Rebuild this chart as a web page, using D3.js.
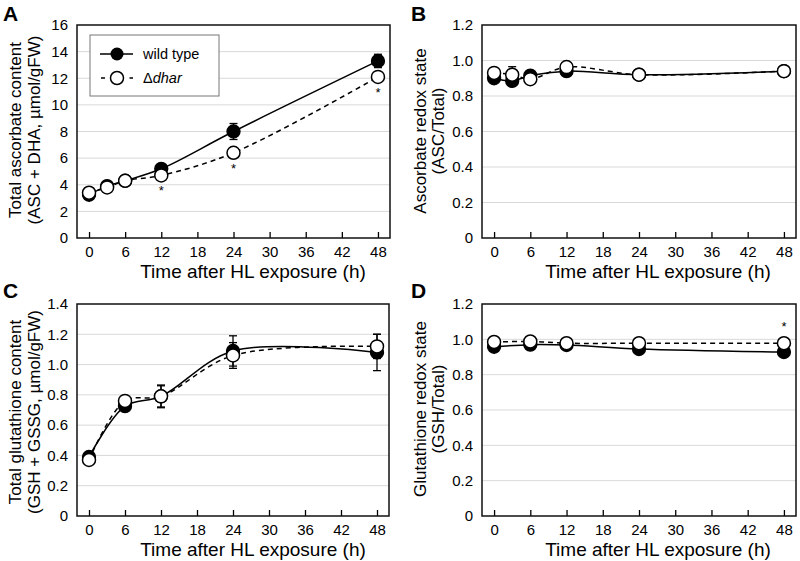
<!DOCTYPE html>
<html><head><meta charset="utf-8">
<script src="https://cdn.jsdelivr.net/npm/d3@7"></script>
<style>body{margin:0;background:#fff}svg{display:block}text{font-family:"Liberation Sans",Arial,Helvetica,sans-serif}</style>
</head><body>
<svg id="c" width="800" height="561"></svg>
<script>
// ---- data ----
const timesAB = [0, 3, 6, 12, 24, 48];
const timesCD = [0, 6, 12, 24, 48];
const xTicks = [0, 6, 12, 18, 24, 30, 36, 42, 48];

const ascTotalWT = [3.25, 3.9, 4.3, 5.2, 8.0, 13.3];
const ascTotalWTerr = [0.1, 0.1, 0.1, 0.25, 0.6, 0.5];
const ascTotalDhar = [3.4, 3.8, 4.3, 4.7, 6.4, 12.1];
const ascTotalDharErr = [0.1, 0.1, 0.1, 0.2, 0.3, 0.3];
const ascTotalSig = [0, 0, 0, 1, 1, 1];

const ascRedoxWT = [0.90, 0.885, 0.915, 0.94, 0.92, 0.94];
const ascRedoxWTerr = [0.01, 0.01, 0.01, 0.01, 0.01, 0.01];
const ascRedoxDhar = [0.93, 0.92, 0.895, 0.963, 0.92, 0.94];
const ascRedoxDharErr = [0.01, 0.045, 0.01, 0.01, 0.01, 0.01];
const ascRedoxSig = [0, 0, 0, 0, 0, 0];

const gshTotalWT = [0.39, 0.725, 0.79, 1.09, 1.08];
const gshTotalWTerr = [0.02, 0.02, 0.075, 0.1, 0.12];
const gshTotalDhar = [0.37, 0.76, 0.79, 1.06, 1.12];
const gshTotalDharErr = [0.02, 0.02, 0.07, 0.085, 0.08];
const gshTotalSig = [0, 0, 0, 0, 0];

const gshRedoxWT = [0.958, 0.97, 0.968, 0.945, 0.928];
const gshRedoxWTerr = [0.01, 0.01, 0.01, 0.01, 0.01];
const gshRedoxDhar = [0.985, 0.988, 0.978, 0.978, 0.978];
const gshRedoxDharErr = [0.01, 0.01, 0.01, 0.01, 0.01];
const gshRedoxSig = [0, 0, 0, 0, 1];

const seriesNames = ["wild type", "dhar"];

// ---- drawing ----
const svg = d3.select("#c");
const FONT = '"Liberation Sans",Arial,Helvetica,sans-serif';

function panel(cfg) {
  const x = d3.scaleLinear().domain([-2, 50]).range([cfg.x0, cfg.x1]);
  const y = d3.scaleLinear().domain([0, cfg.ymax]).range([cfg.y1, cfg.y0]);
  const g = svg.append("g");
  // gridlines
  g.append("g").selectAll("line").data(cfg.yTicks.filter(v => v > 0 && v < cfg.ymax)).join("line")
    .attr("x1", cfg.x0).attr("x2", cfg.x1).attr("y1", d => y(d)).attr("y2", d => y(d))
    .attr("stroke", "#d9d9d9").attr("stroke-width", 1);
  // x axis (ticks inward)
  const xa = g.append("g").attr("transform", `translate(0,${cfg.y1})`)
    .call(d3.axisBottom(x).tickValues(xTicks).tickSizeInner(-6).tickSizeOuter(0).tickPadding(8));
  xa.select(".domain").remove();
  xa.selectAll("line").attr("stroke", "#000").attr("stroke-width", 1.3);
  xa.selectAll("text").attr("font-size", 15).attr("font-family", FONT).attr("fill", "#000");
  // y axis labels
  const ya = g.append("g").attr("transform", `translate(${cfg.x0},0)`)
    .call(d3.axisLeft(y).tickValues(cfg.yTicks).tickSize(0).tickPadding(9).tickFormat(cfg.fmt));
  ya.select(".domain").remove();
  ya.selectAll("text").attr("font-size", 15).attr("font-family", FONT).attr("fill", "#000");
  // frame
  g.append("rect").attr("x", cfg.x0).attr("y", cfg.y0).attr("width", cfg.x1 - cfg.x0).attr("height", cfg.y1 - cfg.y0)
    .attr("fill", "none").attr("stroke", "#111").attr("stroke-width", 1.5);

  const line = d3.line().x(d => x(d[0])).y(d => y(d[1])).curve(d3.curveCatmullRom.alpha(0.5));
  const wt = cfg.t.map((t, i) => [t, cfg.wt[i], cfg.wtErr[i]]);
  const dh = cfg.t.map((t, i) => [t, cfg.dh[i], cfg.dhErr[i]]);
  g.append("path").attr("d", line(wt)).attr("fill", "none").attr("stroke", "#000").attr("stroke-width", 1.5);
  g.append("path").attr("d", line(dh)).attr("fill", "none").attr("stroke", "#000").attr("stroke-width", 1.5)
    .attr("stroke-dasharray", "5,4");
  // error bars
  [wt, dh].forEach(s => {
    const eg = g.append("g").attr("stroke", "#000").attr("stroke-width", 1.3);
    s.forEach(d => {
      const cx = x(d[0]);
      eg.append("line").attr("x1", cx).attr("x2", cx).attr("y1", y(d[1] - d[2])).attr("y2", y(d[1] + d[2]));
      eg.append("line").attr("x1", cx - 4).attr("x2", cx + 4).attr("y1", y(d[1] - d[2])).attr("y2", y(d[1] - d[2]));
      eg.append("line").attr("x1", cx - 4).attr("x2", cx + 4).attr("y1", y(d[1] + d[2])).attr("y2", y(d[1] + d[2]));
    });
  });
  g.append("g").selectAll("circle").data(wt).join("circle")
    .attr("cx", d => x(d[0])).attr("cy", d => y(d[1])).attr("r", 6.5)
    .attr("fill", "#000").attr("stroke", "#000").attr("stroke-width", 1.3);
  g.append("g").selectAll("circle").data(dh).join("circle")
    .attr("cx", d => x(d[0])).attr("cy", d => y(d[1])).attr("r", 6.5)
    .attr("fill", "#fff").attr("stroke", "#000").attr("stroke-width", 1.5);
  // significance asterisks
  cfg.t.forEach((t, i) => {
    if (!cfg.sig[i]) return;
    const yy = cfg.sigAbove ? y(cfg.dh[i]) - 12 : y(cfg.dh[i]) + 20;
    g.append("text").attr("x", x(t)).attr("y", yy).attr("text-anchor", "middle")
      .attr("font-size", 13).attr("font-family", FONT).text("*");
  });
  // axis title
  g.append("text").attr("x", cfg.titleX).attr("y", cfg.y1 + 40).attr("text-anchor", "middle")
    .attr("font-size", 19).attr("font-family", FONT).text("Time after HL exposure (h)");
  // y label
  cfg.ylab.forEach((s, k) => {
    g.append("text").attr("transform", `translate(${cfg.ylabX[k]},${cfg.ylabY}) rotate(-90)`)
      .attr("text-anchor", "middle").attr("dominant-baseline", "central")
      .attr("font-size", 17).attr("font-family", FONT).text(s);
  });
  // panel letter
  g.append("text").attr("x", cfg.lx).attr("y", cfg.ly).attr("font-size", 21).attr("font-weight", "bold")
    .attr("font-family", FONT).text(cfg.letter);
  return {x, y, g};
}

const fmt1 = d => d === 0 ? "0" : d3.format(".1f")(d);

const A = panel({letter: "A", lx: 3, ly: 21, x0: 77, x1: 390, y0: 25, y1: 238, ymax: 16,
  yTicks: d3.range(0, 17, 2), fmt: d3.format("d"), t: timesAB,
  wt: ascTotalWT, wtErr: ascTotalWTerr, dh: ascTotalDhar, dhErr: ascTotalDharErr, sig: ascTotalSig, sigAbove: false,
  titleX: 253, ylab: ["Total ascorbate content", "(ASC + DHA, µmol/gFW)"], ylabX: [15, 34], ylabY: 130});
panel({letter: "B", lx: 411, ly: 21, x0: 482, x1: 796, y0: 25, y1: 238, ymax: 1.2,
  yTicks: [0, 0.2, 0.4, 0.6, 0.8, 1.0, 1.2], fmt: fmt1, t: timesAB,
  wt: ascRedoxWT, wtErr: ascRedoxWTerr, dh: ascRedoxDhar, dhErr: ascRedoxDharErr, sig: ascRedoxSig, sigAbove: false,
  titleX: 658, ylab: ["Ascorbate redox state", "(ASC/Total)"], ylabX: [420, 438], ylabY: 131});
panel({letter: "C", lx: 3, ly: 298, x0: 77, x1: 389, y0: 304, y1: 516, ymax: 1.4,
  yTicks: [0, 0.2, 0.4, 0.6, 0.8, 1.0, 1.2, 1.4], fmt: fmt1, t: timesCD,
  wt: gshTotalWT, wtErr: gshTotalWTerr, dh: gshTotalDhar, dhErr: gshTotalDharErr, sig: gshTotalSig, sigAbove: false,
  titleX: 253, ylab: ["Total glutathione content", "(GSH + GSSG, µmol/gFW)"], ylabX: [15, 34], ylabY: 412});
panel({letter: "D", lx: 411, ly: 298, x0: 482, x1: 796, y0: 304, y1: 516, ymax: 1.2,
  yTicks: [0, 0.2, 0.4, 0.6, 0.8, 1.0, 1.2], fmt: fmt1, t: timesCD,
  wt: gshRedoxWT, wtErr: gshRedoxWTerr, dh: gshRedoxDhar, dhErr: gshRedoxDharErr, sig: gshRedoxSig, sigAbove: true,
  titleX: 658, ylab: ["Glutathione redox state", "(GSH/Total)"], ylabX: [420, 438], ylabY: 409});

// legend in panel A
const lg = A.g.append("g");
lg.append("rect").attr("x", 90).attr("y", 35).attr("width", 129).attr("height", 61)
  .attr("fill", "#fff").attr("stroke", "#777").attr("stroke-width", 1);
lg.append("line").attr("x1", 100).attr("x2", 133).attr("y1", 54).attr("y2", 54).attr("stroke", "#000").attr("stroke-width", 1.5);
lg.append("circle").attr("cx", 117).attr("cy", 54).attr("r", 6.5).attr("fill", "#000");
lg.append("line").attr("x1", 100).attr("x2", 133).attr("y1", 78).attr("y2", 78).attr("stroke", "#000").attr("stroke-width", 1.5)
  .attr("stroke-dasharray", "4,5.5").attr("stroke-dashoffset", -1);
lg.append("circle").attr("cx", 117).attr("cy", 78).attr("r", 6.5).attr("fill", "#fff").attr("stroke", "#000").attr("stroke-width", 1.5);
lg.append("text").attr("x", 143).attr("y", 59).attr("font-size", 14.5).attr("font-family", FONT).text(seriesNames[0]);
const t2 = lg.append("text").attr("x", 143).attr("y", 83).attr("font-size", 14.5).attr("font-family", FONT);
t2.append("tspan").text("Δ");
t2.append("tspan").attr("font-style", "italic").text(seriesNames[1]);
</script>
</body></html>
